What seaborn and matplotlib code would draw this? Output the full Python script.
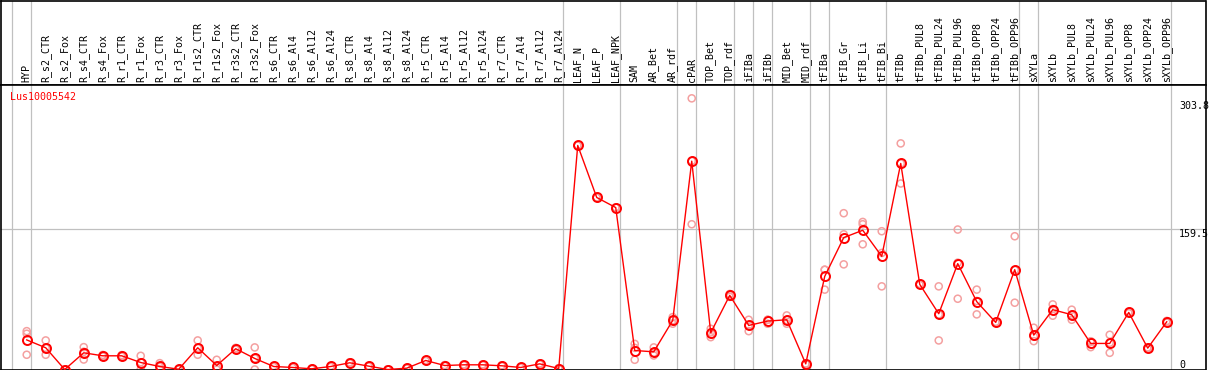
import numpy as np
import pandas as pd
import seaborn as sns
import matplotlib.pyplot as plt
import matplotlib.transforms as mtransforms

# Данные: образцы, средние значения и повторности
samples = ['HYP', 'R_s2_CTR', 'R_s2_Fox', 'R_s4_CTR', 'R_s4_Fox', 'R_r1_CTR', 'R_r1_Fox',
           'R_r3_CTR', 'R_r3_Fox', 'R_r1s2_CTR', 'R_r1s2_Fox', 'R_r3s2_CTR', 'R_r3s2_Fox',
           'R_s6_CTR', 'R_s6_Al4', 'R_s6_Al12', 'R_s6_Al24', 'R_s8_CTR', 'R_s8_Al4',
           'R_s8_Al12', 'R_s8_Al24', 'R_r5_CTR', 'R_r5_Al4', 'R_r5_Al12', 'R_r5_Al24',
           'R_r7_CTR', 'R_r7_Al4', 'R_r7_Al12', 'R_r7_Al24', 'LEAF_N', 'LEAF_P', 'LEAF_NPK',
           'SAM', 'AR_Bet', 'AR_rdf', 'cPAR', 'TOP_Bet', 'TOP_rdf', 'iFIBa', 'iFIBb',
           'MID_Bet', 'MID_rdf', 'tFIBa', 'tFIB_Gr', 'tFIB_Li', 'tFIB_Bi', 'tFIBb',
           'tFIBb_PUL8', 'tFIBb_PUL24', 'tFIBb_PUL96', 'tFIBb_OPP8', 'tFIBb_OPP24',
           'tFIBb_OPP96', 'sXYLa', 'sXYLb', 'sXYLb_PUL8', 'sXYLb_PUL24', 'sXYLb_PUL96',
           'sXYLb_OPP8', 'sXYLb_OPP24', 'sXYLb_OPP96']

mean_vals = [33.5, 24.6, 0.0, 18.9, 15.5, 15.5, 7.9, 3.4, 0.3, 24.6, 4.5, 23.5, 12.5,
             3.4, 2.3, 0.8, 3.4, 7.6, 3.8, 0.0, 1.5, 10.2, 4.5, 5.3, 5.3, 4.2, 2.3, 6.4, 1.1,
             253.6, 194.7, 183.3, 21.5, 20.0, 55.6, 235.8, 41.6, 83.9, 49.9, 54.8, 56.3, 6.4,
             105.4, 149.3, 157.6, 128.1, 233.2, 96.4, 63.1, 119.8, 76.8, 53.3, 113.0,
             38.9, 67.7, 62.0, 29.5, 29.5, 64.6, 24.2, 54.0]

rep1 = [43.4, 32.9, 0.0, 25.3, 16.5, 16.3, 15.5, 7.2, 0.9, 32.9, 11.0, 24.5, 25.0,
        4.0, 2.8, 1.2, 4.0, 8.2, 4.3, 0.0, 2.0, 10.8, 5.0, 5.8, 5.8, 4.7, 2.8, 6.9, 1.5,
        253.6, 194.7, 183.3, 29.0, 25.0, 59.3, 306.9, 46.1, 85.5, 56.3, 56.3, 61.2, 6.4,
        113.0, 176.9, 167.0, 156.5, 255.9, 97.0, 94.1, 158.4, 90.4, 54.0, 150.8,
        47.3, 73.7, 67.7, 32.0, 39.3, 65.5, 25.0, 55.0]
rep2 = [40.5, 24.2, 0.0, 20.1, 15.0, 15.6, 8.2, 3.0, 0.0, 24.2, 2.5, 23.5, 12.5,
        3.4, 2.3, 0.8, 3.4, 7.6, 3.8, 0.0, 1.5, 10.2, 4.5, 5.3, 5.3, 4.2, 2.3, 6.4, 1.1,
        253.6, 194.7, 183.3, 24.5, 19.0, 55.7, 236.0, 42.0, 84.0, 50.0, 56.3, 56.0, 6.4,
        112.8, 153.0, 164.4, 131.9, 233.2, 96.4, 62.3, 120.9, 77.6, 53.3, 112.6,
        37.3, 68.5, 62.0, 31.2, 30.3, 64.6, 24.2, 54.0]
rep3 = [16.7, 16.7, 0.0, 11.3, 15.0, 14.6, 0.0, 0.0, 0.0, 16.7, 0.0, 22.5, 0.0,
        2.8, 1.8, 0.4, 2.8, 7.0, 3.3, 0.0, 1.0, 9.6, 4.0, 4.8, 4.8, 3.7, 1.8, 5.9, 0.7,
        253.6, 194.7, 183.3, 11.0, 15.9, 51.8, 164.4, 36.6, 82.2, 43.4, 51.8, 51.8, 6.4,
        90.4, 119.0, 141.7, 94.1, 210.5, 95.8, 32.9, 80.1, 62.4, 52.6, 75.6,
        32.1, 60.9, 56.3, 25.3, 18.9, 63.7, 23.4, 53.0]

# Последний образец каждой группы (после него вертикальная линия)
group_ends = [-1, 0, 28, 31, 34, 35, 37, 38, 39, 41, 42, 45, 52, 53, 60]
gene = 'Lus10005542'
y_ticks = [303.8, 159.5, 0]

x = np.arange(len(samples))
df_mean = pd.DataFrame({'x': x, 'val': mean_vals})
df_rep = pd.DataFrame({'x': np.tile(x, 3), 'val': rep1 + rep2 + rep3})

plt.rcParams['font.family'] = ['DejaVu Sans Mono']
fs = 7.2
grid_c = '#c0c0c0'

W, H = 1209, 370
fig = plt.figure(figsize=(W / 100, H / 100), dpi=100)
ax_lab = fig.add_axes([0.5 / W, (H - 85) / H, 1205 / W, 84.5 / H])
ax = fig.add_axes([0.5 / W, 0.5 / H, 1205 / W, 284.5 / H], sharex=ax_lab)

ax.set_xlim(-1.38, 62.04)
ax.set_ylim(0, 322)
ax_lab.set_ylim(0, 1)

for a in (ax, ax_lab):
    for g in group_ends:
        a.axvline(g + 0.2, color=grid_c, lw=0.9, zorder=1)
    a.tick_params(left=False, bottom=False, labelleft=False, labelbottom=False)
    for s in a.spines.values():
        s.set_color('black')
        s.set_linewidth(1.2)
ax.axhline(159.5, color=grid_c, lw=0.9, zorder=1)

# Подписи образцов
tr = ax_lab.get_xaxis_transform()
for i, name in enumerate(samples):
    ax_lab.text(i, 0.03, name, rotation=90, ha='center', va='bottom',
                fontsize=fs, transform=tr)

# Повторности и средние
sns.scatterplot(data=df_rep, x='x', y='val', ax=ax, s=26, marker='o',
                facecolors='none', edgecolor='#f4a0a0', linewidth=1.1,
                zorder=2, clip_on=True)
sns.lineplot(data=df_mean, x='x', y='val', ax=ax, color='red', lw=1.0,
             marker='o', markersize=6.5, markerfacecolor='none',
             markeredgecolor='red', markeredgewidth=1.4, zorder=3)
ax.set_xlabel('')
ax.set_ylabel('')

# Значения по правому краю
ytr = mtransforms.blended_transform_factory(ax.transAxes, ax.transData)
for v in y_ticks:
    ax.text(0.978, v, f'{v:g}' if v == 0 else f'{v}', ha='left',
            va='bottom' if v == 0 else 'top', fontsize=fs, transform=ytr)

ax.text(0.0075, 1 - 7.5 / 284.5, gene, color='red', fontsize=fs,
        ha='left', va='top', transform=ax.transAxes)

fig.savefig('out.png', dpi=100)
